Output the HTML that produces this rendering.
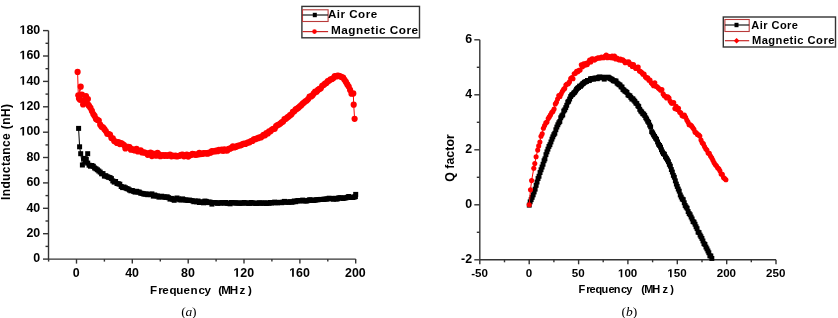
<!DOCTYPE html>
<html><head><meta charset="utf-8"><style>
html,body{margin:0;padding:0;background:#fff;}
svg{display:block;filter:blur(0.3px);}
</style></head><body>
<svg width="838" height="318" viewBox="0 0 838 318">
<rect width="838" height="318" fill="#fff"/>
<g stroke="#333" stroke-width="1.4" fill="none"><line x1="48.5" y1="30.6" x2="48.5" y2="259.1"/><line x1="48.5" y1="259.1" x2="355.7" y2="259.1"/><line x1="43.0" y1="259.1" x2="48.5" y2="259.1"/><line x1="45.5" y1="246.4" x2="48.5" y2="246.4"/><line x1="43.0" y1="233.7" x2="48.5" y2="233.7"/><line x1="45.5" y1="221.0" x2="48.5" y2="221.0"/><line x1="43.0" y1="208.3" x2="48.5" y2="208.3"/><line x1="45.5" y1="195.6" x2="48.5" y2="195.6"/><line x1="43.0" y1="182.9" x2="48.5" y2="182.9"/><line x1="45.5" y1="170.2" x2="48.5" y2="170.2"/><line x1="43.0" y1="157.5" x2="48.5" y2="157.5"/><line x1="45.5" y1="144.9" x2="48.5" y2="144.9"/><line x1="43.0" y1="132.2" x2="48.5" y2="132.2"/><line x1="45.5" y1="119.5" x2="48.5" y2="119.5"/><line x1="43.0" y1="106.8" x2="48.5" y2="106.8"/><line x1="45.5" y1="94.1" x2="48.5" y2="94.1"/><line x1="43.0" y1="81.4" x2="48.5" y2="81.4"/><line x1="45.5" y1="68.7" x2="48.5" y2="68.7"/><line x1="43.0" y1="56.0" x2="48.5" y2="56.0"/><line x1="45.5" y1="43.3" x2="48.5" y2="43.3"/><line x1="43.0" y1="30.6" x2="48.5" y2="30.6"/><line x1="48.6" y1="259.1" x2="48.6" y2="261.6"/><line x1="76.5" y1="259.1" x2="76.5" y2="263.6"/><line x1="104.4" y1="259.1" x2="104.4" y2="261.6"/><line x1="132.3" y1="259.1" x2="132.3" y2="263.6"/><line x1="160.3" y1="259.1" x2="160.3" y2="261.6"/><line x1="188.2" y1="259.1" x2="188.2" y2="263.6"/><line x1="216.1" y1="259.1" x2="216.1" y2="261.6"/><line x1="244.0" y1="259.1" x2="244.0" y2="263.6"/><line x1="271.9" y1="259.1" x2="271.9" y2="261.6"/><line x1="299.9" y1="259.1" x2="299.9" y2="263.6"/><line x1="327.8" y1="259.1" x2="327.8" y2="261.6"/><line x1="355.7" y1="259.1" x2="355.7" y2="263.6"/></g><g stroke="#333" stroke-width="1.4" fill="none"><line x1="479.8" y1="39.8" x2="479.8" y2="259.8"/><line x1="479.8" y1="259.8" x2="776" y2="259.8"/><line x1="474.3" y1="259.8" x2="479.8" y2="259.8"/><line x1="476.8" y1="232.3" x2="479.8" y2="232.3"/><line x1="474.3" y1="204.8" x2="479.8" y2="204.8"/><line x1="476.8" y1="177.3" x2="479.8" y2="177.3"/><line x1="474.3" y1="149.8" x2="479.8" y2="149.8"/><line x1="476.8" y1="122.3" x2="479.8" y2="122.3"/><line x1="474.3" y1="94.8" x2="479.8" y2="94.8"/><line x1="476.8" y1="67.3" x2="479.8" y2="67.3"/><line x1="474.3" y1="39.8" x2="479.8" y2="39.8"/><line x1="479.8" y1="259.8" x2="479.8" y2="264.3"/><line x1="504.5" y1="259.8" x2="504.5" y2="262.3"/><line x1="529.2" y1="259.8" x2="529.2" y2="264.3"/><line x1="553.9" y1="259.8" x2="553.9" y2="262.3"/><line x1="578.6" y1="259.8" x2="578.6" y2="264.3"/><line x1="603.2" y1="259.8" x2="603.2" y2="262.3"/><line x1="627.9" y1="259.8" x2="627.9" y2="264.3"/><line x1="652.6" y1="259.8" x2="652.6" y2="262.3"/><line x1="677.3" y1="259.8" x2="677.3" y2="264.3"/><line x1="702.0" y1="259.8" x2="702.0" y2="262.3"/><line x1="726.7" y1="259.8" x2="726.7" y2="264.3"/><line x1="751.3" y1="259.8" x2="751.3" y2="262.3"/><line x1="776.0" y1="259.8" x2="776.0" y2="264.3"/></g><polyline points="78.6,128.4 79.6,146.8 80.7,153.7 82.4,165.0 83.8,158.4 85.2,162.0 87.7,153.7 86.3,159.5 87.7,163.1 89.1,165.2 90.5,166.2 91.9,165.5 93.3,166.3 94.6,168.0 96.0,168.8 97.4,169.8 98.8,171.0 100.2,172.1 101.6,173.8 103.0,173.6 104.4,176.1 105.8,175.7 107.2,176.7 108.6,177.3 110.0,177.6 111.4,178.6 112.8,180.9 114.2,182.1 115.6,181.5 117.0,183.5 118.4,183.8 119.8,184.2 121.2,186.5 122.6,187.6 124.0,187.0 125.4,187.8 126.8,188.6 128.2,189.0 129.5,190.0 130.9,190.8 132.3,190.5 133.7,191.4 135.1,192.1 136.5,191.3 137.9,192.0 139.3,192.1 140.7,193.2 142.1,193.4 143.5,193.9 144.9,194.2 146.3,193.9 147.7,194.7 149.1,194.3 150.5,194.6 151.9,193.9 153.3,196.1 154.7,195.0 156.1,195.8 157.5,196.0 158.9,197.1 160.3,196.7 161.7,196.2 163.1,196.9 164.4,197.0 165.8,197.4 167.2,196.8 168.6,197.7 170.0,199.1 171.4,198.4 172.8,199.3 174.2,200.3 175.6,198.9 177.0,198.0 178.4,198.9 179.8,199.8 181.2,199.9 182.6,198.9 184.0,199.7 185.4,200.0 186.8,200.2 188.2,200.4 189.6,200.1 191.0,200.5 192.4,200.8 193.8,201.7 195.2,201.0 196.6,201.8 198.0,201.0 199.3,202.5 200.7,201.9 202.1,202.0 203.5,202.8 204.9,201.1 206.3,201.4 207.7,202.6 209.1,202.0 210.5,202.3 211.9,204.1 213.3,202.5 214.7,202.7 216.1,202.7 217.5,203.3 218.9,203.0 220.3,203.0 221.7,202.6 223.1,202.9 224.5,203.1 225.9,202.5 227.3,203.3 228.7,203.3 230.1,203.8 231.5,202.5 232.9,202.8 234.2,202.8 235.6,202.9 237.0,203.1 238.4,203.0 239.8,203.2 241.2,203.2 242.6,203.1 244.0,202.5 245.4,202.9 246.8,203.1 248.2,203.3 249.6,203.4 251.0,202.5 252.4,202.9 253.8,203.1 255.2,203.3 256.6,203.5 258.0,203.1 259.4,202.8 260.8,203.2 262.2,203.1 263.6,203.1 265.0,202.9 266.4,203.5 267.8,203.0 269.1,203.2 270.5,202.5 271.9,203.1 273.3,202.5 274.7,202.1 276.1,202.7 277.5,202.8 278.9,202.4 280.3,202.4 281.7,202.7 283.1,202.1 284.5,201.4 285.9,202.2 287.3,202.1 288.7,202.3 290.1,201.7 291.5,202.2 292.9,202.0 294.3,201.0 295.7,201.7 297.1,200.8 298.5,200.6 299.9,200.9 301.3,200.7 302.7,200.1 304.0,200.8 305.4,200.9 306.8,201.0 308.2,200.4 309.6,199.8 311.0,199.9 312.4,200.5 313.8,200.4 315.2,200.1 316.6,199.7 318.0,199.8 319.4,199.5 320.8,199.4 322.2,199.5 323.6,199.3 325.0,199.1 326.4,199.1 327.8,198.8 329.2,198.2 330.6,198.6 332.0,198.7 333.4,199.2 334.8,198.3 336.2,199.1 337.6,198.8 338.9,197.8 340.3,197.8 341.7,198.0 343.1,198.5 344.5,197.9 345.9,197.9 347.3,197.3 348.7,196.5 350.1,197.2 351.5,197.5 352.9,197.5 354.3,197.0 355.4,196.6 355.7,194.4" fill="none" stroke="#000" stroke-width="1"/><g fill="#000"><rect x="76.1" y="125.9" width="5" height="5"/><rect x="77.1" y="144.3" width="5" height="5"/><rect x="78.2" y="151.2" width="5" height="5"/><rect x="79.9" y="162.5" width="5" height="5"/><rect x="81.3" y="155.9" width="5" height="5"/><rect x="82.7" y="159.5" width="5" height="5"/><rect x="85.2" y="151.2" width="5" height="5"/><rect x="83.8" y="157.0" width="5" height="5"/><rect x="85.2" y="160.6" width="5" height="5"/><rect x="86.6" y="162.7" width="5" height="5"/><rect x="88.0" y="163.7" width="5" height="5"/><rect x="89.4" y="163.0" width="5" height="5"/><rect x="90.8" y="163.8" width="5" height="5"/><rect x="92.1" y="165.5" width="5" height="5"/><rect x="93.5" y="166.3" width="5" height="5"/><rect x="94.9" y="167.3" width="5" height="5"/><rect x="96.3" y="168.5" width="5" height="5"/><rect x="97.7" y="169.6" width="5" height="5"/><rect x="99.1" y="171.3" width="5" height="5"/><rect x="100.5" y="171.1" width="5" height="5"/><rect x="101.9" y="173.6" width="5" height="5"/><rect x="103.3" y="173.2" width="5" height="5"/><rect x="104.7" y="174.2" width="5" height="5"/><rect x="106.1" y="174.8" width="5" height="5"/><rect x="107.5" y="175.1" width="5" height="5"/><rect x="108.9" y="176.1" width="5" height="5"/><rect x="110.3" y="178.4" width="5" height="5"/><rect x="111.7" y="179.6" width="5" height="5"/><rect x="113.1" y="179.0" width="5" height="5"/><rect x="114.5" y="181.0" width="5" height="5"/><rect x="115.9" y="181.3" width="5" height="5"/><rect x="117.3" y="181.7" width="5" height="5"/><rect x="118.7" y="184.0" width="5" height="5"/><rect x="120.1" y="185.1" width="5" height="5"/><rect x="121.5" y="184.5" width="5" height="5"/><rect x="122.9" y="185.3" width="5" height="5"/><rect x="124.3" y="186.1" width="5" height="5"/><rect x="125.7" y="186.5" width="5" height="5"/><rect x="127.0" y="187.5" width="5" height="5"/><rect x="128.4" y="188.3" width="5" height="5"/><rect x="129.8" y="188.0" width="5" height="5"/><rect x="131.2" y="188.9" width="5" height="5"/><rect x="132.6" y="189.6" width="5" height="5"/><rect x="134.0" y="188.8" width="5" height="5"/><rect x="135.4" y="189.5" width="5" height="5"/><rect x="136.8" y="189.6" width="5" height="5"/><rect x="138.2" y="190.7" width="5" height="5"/><rect x="139.6" y="190.9" width="5" height="5"/><rect x="141.0" y="191.4" width="5" height="5"/><rect x="142.4" y="191.7" width="5" height="5"/><rect x="143.8" y="191.4" width="5" height="5"/><rect x="145.2" y="192.2" width="5" height="5"/><rect x="146.6" y="191.8" width="5" height="5"/><rect x="148.0" y="192.1" width="5" height="5"/><rect x="149.4" y="191.4" width="5" height="5"/><rect x="150.8" y="193.6" width="5" height="5"/><rect x="152.2" y="192.5" width="5" height="5"/><rect x="153.6" y="193.3" width="5" height="5"/><rect x="155.0" y="193.5" width="5" height="5"/><rect x="156.4" y="194.6" width="5" height="5"/><rect x="157.8" y="194.2" width="5" height="5"/><rect x="159.2" y="193.7" width="5" height="5"/><rect x="160.6" y="194.4" width="5" height="5"/><rect x="161.9" y="194.5" width="5" height="5"/><rect x="163.3" y="194.9" width="5" height="5"/><rect x="164.7" y="194.3" width="5" height="5"/><rect x="166.1" y="195.2" width="5" height="5"/><rect x="167.5" y="196.6" width="5" height="5"/><rect x="168.9" y="195.9" width="5" height="5"/><rect x="170.3" y="196.8" width="5" height="5"/><rect x="171.7" y="197.8" width="5" height="5"/><rect x="173.1" y="196.4" width="5" height="5"/><rect x="174.5" y="195.5" width="5" height="5"/><rect x="175.9" y="196.4" width="5" height="5"/><rect x="177.3" y="197.3" width="5" height="5"/><rect x="178.7" y="197.4" width="5" height="5"/><rect x="180.1" y="196.4" width="5" height="5"/><rect x="181.5" y="197.2" width="5" height="5"/><rect x="182.9" y="197.5" width="5" height="5"/><rect x="184.3" y="197.7" width="5" height="5"/><rect x="185.7" y="197.9" width="5" height="5"/><rect x="187.1" y="197.6" width="5" height="5"/><rect x="188.5" y="198.0" width="5" height="5"/><rect x="189.9" y="198.3" width="5" height="5"/><rect x="191.3" y="199.2" width="5" height="5"/><rect x="192.7" y="198.5" width="5" height="5"/><rect x="194.1" y="199.3" width="5" height="5"/><rect x="195.5" y="198.5" width="5" height="5"/><rect x="196.8" y="200.0" width="5" height="5"/><rect x="198.2" y="199.4" width="5" height="5"/><rect x="199.6" y="199.5" width="5" height="5"/><rect x="201.0" y="200.3" width="5" height="5"/><rect x="202.4" y="198.6" width="5" height="5"/><rect x="203.8" y="198.9" width="5" height="5"/><rect x="205.2" y="200.1" width="5" height="5"/><rect x="206.6" y="199.5" width="5" height="5"/><rect x="208.0" y="199.8" width="5" height="5"/><rect x="209.4" y="201.6" width="5" height="5"/><rect x="210.8" y="200.0" width="5" height="5"/><rect x="212.2" y="200.2" width="5" height="5"/><rect x="213.6" y="200.2" width="5" height="5"/><rect x="215.0" y="200.8" width="5" height="5"/><rect x="216.4" y="200.5" width="5" height="5"/><rect x="217.8" y="200.5" width="5" height="5"/><rect x="219.2" y="200.1" width="5" height="5"/><rect x="220.6" y="200.4" width="5" height="5"/><rect x="222.0" y="200.6" width="5" height="5"/><rect x="223.4" y="200.0" width="5" height="5"/><rect x="224.8" y="200.8" width="5" height="5"/><rect x="226.2" y="200.8" width="5" height="5"/><rect x="227.6" y="201.3" width="5" height="5"/><rect x="229.0" y="200.0" width="5" height="5"/><rect x="230.4" y="200.3" width="5" height="5"/><rect x="231.7" y="200.3" width="5" height="5"/><rect x="233.1" y="200.4" width="5" height="5"/><rect x="234.5" y="200.6" width="5" height="5"/><rect x="235.9" y="200.5" width="5" height="5"/><rect x="237.3" y="200.7" width="5" height="5"/><rect x="238.7" y="200.7" width="5" height="5"/><rect x="240.1" y="200.6" width="5" height="5"/><rect x="241.5" y="200.0" width="5" height="5"/><rect x="242.9" y="200.4" width="5" height="5"/><rect x="244.3" y="200.6" width="5" height="5"/><rect x="245.7" y="200.8" width="5" height="5"/><rect x="247.1" y="200.9" width="5" height="5"/><rect x="248.5" y="200.0" width="5" height="5"/><rect x="249.9" y="200.4" width="5" height="5"/><rect x="251.3" y="200.6" width="5" height="5"/><rect x="252.7" y="200.8" width="5" height="5"/><rect x="254.1" y="201.0" width="5" height="5"/><rect x="255.5" y="200.6" width="5" height="5"/><rect x="256.9" y="200.3" width="5" height="5"/><rect x="258.3" y="200.7" width="5" height="5"/><rect x="259.7" y="200.6" width="5" height="5"/><rect x="261.1" y="200.6" width="5" height="5"/><rect x="262.5" y="200.4" width="5" height="5"/><rect x="263.9" y="201.0" width="5" height="5"/><rect x="265.3" y="200.5" width="5" height="5"/><rect x="266.6" y="200.7" width="5" height="5"/><rect x="268.0" y="200.0" width="5" height="5"/><rect x="269.4" y="200.6" width="5" height="5"/><rect x="270.8" y="200.0" width="5" height="5"/><rect x="272.2" y="199.6" width="5" height="5"/><rect x="273.6" y="200.2" width="5" height="5"/><rect x="275.0" y="200.3" width="5" height="5"/><rect x="276.4" y="199.9" width="5" height="5"/><rect x="277.8" y="199.9" width="5" height="5"/><rect x="279.2" y="200.2" width="5" height="5"/><rect x="280.6" y="199.6" width="5" height="5"/><rect x="282.0" y="198.9" width="5" height="5"/><rect x="283.4" y="199.7" width="5" height="5"/><rect x="284.8" y="199.6" width="5" height="5"/><rect x="286.2" y="199.8" width="5" height="5"/><rect x="287.6" y="199.2" width="5" height="5"/><rect x="289.0" y="199.7" width="5" height="5"/><rect x="290.4" y="199.5" width="5" height="5"/><rect x="291.8" y="198.5" width="5" height="5"/><rect x="293.2" y="199.2" width="5" height="5"/><rect x="294.6" y="198.3" width="5" height="5"/><rect x="296.0" y="198.1" width="5" height="5"/><rect x="297.4" y="198.4" width="5" height="5"/><rect x="298.8" y="198.2" width="5" height="5"/><rect x="300.2" y="197.6" width="5" height="5"/><rect x="301.5" y="198.3" width="5" height="5"/><rect x="302.9" y="198.4" width="5" height="5"/><rect x="304.3" y="198.5" width="5" height="5"/><rect x="305.7" y="197.9" width="5" height="5"/><rect x="307.1" y="197.3" width="5" height="5"/><rect x="308.5" y="197.4" width="5" height="5"/><rect x="309.9" y="198.0" width="5" height="5"/><rect x="311.3" y="197.9" width="5" height="5"/><rect x="312.7" y="197.6" width="5" height="5"/><rect x="314.1" y="197.2" width="5" height="5"/><rect x="315.5" y="197.3" width="5" height="5"/><rect x="316.9" y="197.0" width="5" height="5"/><rect x="318.3" y="196.9" width="5" height="5"/><rect x="319.7" y="197.0" width="5" height="5"/><rect x="321.1" y="196.8" width="5" height="5"/><rect x="322.5" y="196.6" width="5" height="5"/><rect x="323.9" y="196.6" width="5" height="5"/><rect x="325.3" y="196.3" width="5" height="5"/><rect x="326.7" y="195.7" width="5" height="5"/><rect x="328.1" y="196.1" width="5" height="5"/><rect x="329.5" y="196.2" width="5" height="5"/><rect x="330.9" y="196.7" width="5" height="5"/><rect x="332.3" y="195.8" width="5" height="5"/><rect x="333.7" y="196.6" width="5" height="5"/><rect x="335.1" y="196.3" width="5" height="5"/><rect x="336.4" y="195.3" width="5" height="5"/><rect x="337.8" y="195.3" width="5" height="5"/><rect x="339.2" y="195.5" width="5" height="5"/><rect x="340.6" y="196.0" width="5" height="5"/><rect x="342.0" y="195.4" width="5" height="5"/><rect x="343.4" y="195.4" width="5" height="5"/><rect x="344.8" y="194.8" width="5" height="5"/><rect x="346.2" y="194.0" width="5" height="5"/><rect x="347.6" y="194.7" width="5" height="5"/><rect x="349.0" y="195.0" width="5" height="5"/><rect x="350.4" y="195.0" width="5" height="5"/><rect x="351.8" y="194.5" width="5" height="5"/><rect x="352.9" y="194.1" width="5" height="5"/><rect x="353.2" y="191.9" width="5" height="5"/></g><polyline points="77.6,71.9 78.3,95.3 80.7,86.7 79.0,98.5 81.9,94.5 80.1,99.8 84.0,100.0 86.0,96.0 87.9,99.0 83.1,104.5 86.6,103.0 88.4,104.9 89.1,106.1 90.5,107.9 91.9,110.9 93.3,114.1 94.6,115.9 96.0,118.9 97.4,119.9 98.8,120.6 100.2,124.7 101.6,126.8 103.0,127.3 104.4,129.2 105.8,131.1 107.2,133.7 108.6,134.1 110.0,134.6 111.4,138.1 112.8,138.3 114.2,141.1 115.6,141.5 117.0,143.0 118.4,142.1 119.8,144.1 121.2,143.1 122.6,144.0 124.0,145.1 125.4,148.4 126.8,146.8 128.2,146.8 129.5,147.2 130.9,149.7 132.3,149.0 133.7,150.1 135.1,150.4 136.5,148.8 137.9,151.4 139.3,151.0 140.7,150.4 142.1,152.5 143.5,152.3 144.9,152.5 146.3,153.0 147.7,154.8 149.1,153.7 150.5,152.5 151.9,156.1 153.3,153.6 154.7,154.6 156.1,155.7 157.5,152.8 158.9,154.3 160.3,156.2 161.7,155.4 163.1,155.1 164.4,155.8 165.8,155.2 167.2,155.8 168.6,155.3 170.0,154.7 171.4,156.3 172.8,155.6 174.2,156.1 175.6,155.6 177.0,156.5 178.4,156.0 179.8,155.7 181.2,154.8 182.6,154.5 184.0,156.3 185.4,155.9 186.8,154.7 188.2,156.6 189.6,155.4 191.0,155.0 192.4,153.8 193.8,154.1 195.2,154.8 196.6,154.6 198.0,154.4 199.3,152.8 200.7,154.1 202.1,153.9 203.5,153.2 204.9,153.3 206.3,153.2 207.7,153.7 209.1,152.6 210.5,152.7 211.9,151.2 213.3,151.3 214.7,151.5 216.1,150.7 217.5,151.2 218.9,149.9 220.3,150.4 221.7,149.7 223.1,150.8 224.5,149.3 225.9,150.5 227.3,150.4 228.7,148.8 230.1,148.7 231.5,147.8 232.9,146.3 234.2,147.5 235.6,147.0 237.0,146.2 238.4,145.6 239.8,145.5 241.2,145.1 242.6,144.2 244.0,143.7 245.4,144.0 246.8,143.0 248.2,142.3 249.6,142.3 251.0,141.0 252.4,141.0 253.8,139.4 255.2,139.2 256.6,138.6 258.0,138.2 259.4,137.3 260.8,137.5 262.2,136.3 263.6,134.8 265.0,135.3 266.4,133.0 267.8,133.4 269.1,131.3 270.5,131.3 271.9,129.5 273.3,128.9 274.7,128.7 276.1,126.2 277.5,125.0 278.9,124.6 280.3,123.6 281.7,122.3 283.1,121.5 284.5,119.2 285.9,118.8 287.3,117.4 288.7,116.5 290.1,115.2 291.5,114.3 292.9,111.8 294.3,111.3 295.7,109.4 297.1,108.7 298.5,107.7 299.9,106.3 301.3,105.2 302.7,103.6 304.0,102.6 305.4,101.3 306.8,100.5 308.2,99.0 309.6,96.5 311.0,96.4 312.4,95.4 313.8,93.4 315.2,91.6 316.6,91.8 318.0,89.9 319.4,88.9 320.8,88.3 322.2,85.8 323.6,85.0 325.0,83.7 326.4,83.0 327.8,81.2 329.2,80.6 330.6,79.4 332.0,79.0 333.4,78.1 334.8,76.1 336.2,76.5 337.6,75.7 338.9,75.9 340.3,76.4 341.7,77.1 343.1,77.6 344.5,79.8 345.9,81.9 347.3,84.4 348.7,86.6 350.1,89.9 351.5,93.7 353.3,93.4 353.7,104.7 354.6,118.8" fill="none" stroke="#f00" stroke-width="1"/><g fill="#f00"><circle cx="77.6" cy="71.9" r="3.1"/><circle cx="78.3" cy="95.3" r="3.1"/><circle cx="80.7" cy="86.7" r="3.1"/><circle cx="79.0" cy="98.5" r="3.1"/><circle cx="81.9" cy="94.5" r="3.1"/><circle cx="80.1" cy="99.8" r="3.1"/><circle cx="84.0" cy="100.0" r="3.1"/><circle cx="86.0" cy="96.0" r="3.1"/><circle cx="87.9" cy="99.0" r="3.1"/><circle cx="83.1" cy="104.5" r="3.1"/><circle cx="86.6" cy="103.0" r="3.1"/><circle cx="88.4" cy="104.9" r="3.1"/><circle cx="89.1" cy="106.1" r="3.1"/><circle cx="90.5" cy="107.9" r="3.1"/><circle cx="91.9" cy="110.9" r="3.1"/><circle cx="93.3" cy="114.1" r="3.1"/><circle cx="94.6" cy="115.9" r="3.1"/><circle cx="96.0" cy="118.9" r="3.1"/><circle cx="97.4" cy="119.9" r="3.1"/><circle cx="98.8" cy="120.6" r="3.1"/><circle cx="100.2" cy="124.7" r="3.1"/><circle cx="101.6" cy="126.8" r="3.1"/><circle cx="103.0" cy="127.3" r="3.1"/><circle cx="104.4" cy="129.2" r="3.1"/><circle cx="105.8" cy="131.1" r="3.1"/><circle cx="107.2" cy="133.7" r="3.1"/><circle cx="108.6" cy="134.1" r="3.1"/><circle cx="110.0" cy="134.6" r="3.1"/><circle cx="111.4" cy="138.1" r="3.1"/><circle cx="112.8" cy="138.3" r="3.1"/><circle cx="114.2" cy="141.1" r="3.1"/><circle cx="115.6" cy="141.5" r="3.1"/><circle cx="117.0" cy="143.0" r="3.1"/><circle cx="118.4" cy="142.1" r="3.1"/><circle cx="119.8" cy="144.1" r="3.1"/><circle cx="121.2" cy="143.1" r="3.1"/><circle cx="122.6" cy="144.0" r="3.1"/><circle cx="124.0" cy="145.1" r="3.1"/><circle cx="125.4" cy="148.4" r="3.1"/><circle cx="126.8" cy="146.8" r="3.1"/><circle cx="128.2" cy="146.8" r="3.1"/><circle cx="129.5" cy="147.2" r="3.1"/><circle cx="130.9" cy="149.7" r="3.1"/><circle cx="132.3" cy="149.0" r="3.1"/><circle cx="133.7" cy="150.1" r="3.1"/><circle cx="135.1" cy="150.4" r="3.1"/><circle cx="136.5" cy="148.8" r="3.1"/><circle cx="137.9" cy="151.4" r="3.1"/><circle cx="139.3" cy="151.0" r="3.1"/><circle cx="140.7" cy="150.4" r="3.1"/><circle cx="142.1" cy="152.5" r="3.1"/><circle cx="143.5" cy="152.3" r="3.1"/><circle cx="144.9" cy="152.5" r="3.1"/><circle cx="146.3" cy="153.0" r="3.1"/><circle cx="147.7" cy="154.8" r="3.1"/><circle cx="149.1" cy="153.7" r="3.1"/><circle cx="150.5" cy="152.5" r="3.1"/><circle cx="151.9" cy="156.1" r="3.1"/><circle cx="153.3" cy="153.6" r="3.1"/><circle cx="154.7" cy="154.6" r="3.1"/><circle cx="156.1" cy="155.7" r="3.1"/><circle cx="157.5" cy="152.8" r="3.1"/><circle cx="158.9" cy="154.3" r="3.1"/><circle cx="160.3" cy="156.2" r="3.1"/><circle cx="161.7" cy="155.4" r="3.1"/><circle cx="163.1" cy="155.1" r="3.1"/><circle cx="164.4" cy="155.8" r="3.1"/><circle cx="165.8" cy="155.2" r="3.1"/><circle cx="167.2" cy="155.8" r="3.1"/><circle cx="168.6" cy="155.3" r="3.1"/><circle cx="170.0" cy="154.7" r="3.1"/><circle cx="171.4" cy="156.3" r="3.1"/><circle cx="172.8" cy="155.6" r="3.1"/><circle cx="174.2" cy="156.1" r="3.1"/><circle cx="175.6" cy="155.6" r="3.1"/><circle cx="177.0" cy="156.5" r="3.1"/><circle cx="178.4" cy="156.0" r="3.1"/><circle cx="179.8" cy="155.7" r="3.1"/><circle cx="181.2" cy="154.8" r="3.1"/><circle cx="182.6" cy="154.5" r="3.1"/><circle cx="184.0" cy="156.3" r="3.1"/><circle cx="185.4" cy="155.9" r="3.1"/><circle cx="186.8" cy="154.7" r="3.1"/><circle cx="188.2" cy="156.6" r="3.1"/><circle cx="189.6" cy="155.4" r="3.1"/><circle cx="191.0" cy="155.0" r="3.1"/><circle cx="192.4" cy="153.8" r="3.1"/><circle cx="193.8" cy="154.1" r="3.1"/><circle cx="195.2" cy="154.8" r="3.1"/><circle cx="196.6" cy="154.6" r="3.1"/><circle cx="198.0" cy="154.4" r="3.1"/><circle cx="199.3" cy="152.8" r="3.1"/><circle cx="200.7" cy="154.1" r="3.1"/><circle cx="202.1" cy="153.9" r="3.1"/><circle cx="203.5" cy="153.2" r="3.1"/><circle cx="204.9" cy="153.3" r="3.1"/><circle cx="206.3" cy="153.2" r="3.1"/><circle cx="207.7" cy="153.7" r="3.1"/><circle cx="209.1" cy="152.6" r="3.1"/><circle cx="210.5" cy="152.7" r="3.1"/><circle cx="211.9" cy="151.2" r="3.1"/><circle cx="213.3" cy="151.3" r="3.1"/><circle cx="214.7" cy="151.5" r="3.1"/><circle cx="216.1" cy="150.7" r="3.1"/><circle cx="217.5" cy="151.2" r="3.1"/><circle cx="218.9" cy="149.9" r="3.1"/><circle cx="220.3" cy="150.4" r="3.1"/><circle cx="221.7" cy="149.7" r="3.1"/><circle cx="223.1" cy="150.8" r="3.1"/><circle cx="224.5" cy="149.3" r="3.1"/><circle cx="225.9" cy="150.5" r="3.1"/><circle cx="227.3" cy="150.4" r="3.1"/><circle cx="228.7" cy="148.8" r="3.1"/><circle cx="230.1" cy="148.7" r="3.1"/><circle cx="231.5" cy="147.8" r="3.1"/><circle cx="232.9" cy="146.3" r="3.1"/><circle cx="234.2" cy="147.5" r="3.1"/><circle cx="235.6" cy="147.0" r="3.1"/><circle cx="237.0" cy="146.2" r="3.1"/><circle cx="238.4" cy="145.6" r="3.1"/><circle cx="239.8" cy="145.5" r="3.1"/><circle cx="241.2" cy="145.1" r="3.1"/><circle cx="242.6" cy="144.2" r="3.1"/><circle cx="244.0" cy="143.7" r="3.1"/><circle cx="245.4" cy="144.0" r="3.1"/><circle cx="246.8" cy="143.0" r="3.1"/><circle cx="248.2" cy="142.3" r="3.1"/><circle cx="249.6" cy="142.3" r="3.1"/><circle cx="251.0" cy="141.0" r="3.1"/><circle cx="252.4" cy="141.0" r="3.1"/><circle cx="253.8" cy="139.4" r="3.1"/><circle cx="255.2" cy="139.2" r="3.1"/><circle cx="256.6" cy="138.6" r="3.1"/><circle cx="258.0" cy="138.2" r="3.1"/><circle cx="259.4" cy="137.3" r="3.1"/><circle cx="260.8" cy="137.5" r="3.1"/><circle cx="262.2" cy="136.3" r="3.1"/><circle cx="263.6" cy="134.8" r="3.1"/><circle cx="265.0" cy="135.3" r="3.1"/><circle cx="266.4" cy="133.0" r="3.1"/><circle cx="267.8" cy="133.4" r="3.1"/><circle cx="269.1" cy="131.3" r="3.1"/><circle cx="270.5" cy="131.3" r="3.1"/><circle cx="271.9" cy="129.5" r="3.1"/><circle cx="273.3" cy="128.9" r="3.1"/><circle cx="274.7" cy="128.7" r="3.1"/><circle cx="276.1" cy="126.2" r="3.1"/><circle cx="277.5" cy="125.0" r="3.1"/><circle cx="278.9" cy="124.6" r="3.1"/><circle cx="280.3" cy="123.6" r="3.1"/><circle cx="281.7" cy="122.3" r="3.1"/><circle cx="283.1" cy="121.5" r="3.1"/><circle cx="284.5" cy="119.2" r="3.1"/><circle cx="285.9" cy="118.8" r="3.1"/><circle cx="287.3" cy="117.4" r="3.1"/><circle cx="288.7" cy="116.5" r="3.1"/><circle cx="290.1" cy="115.2" r="3.1"/><circle cx="291.5" cy="114.3" r="3.1"/><circle cx="292.9" cy="111.8" r="3.1"/><circle cx="294.3" cy="111.3" r="3.1"/><circle cx="295.7" cy="109.4" r="3.1"/><circle cx="297.1" cy="108.7" r="3.1"/><circle cx="298.5" cy="107.7" r="3.1"/><circle cx="299.9" cy="106.3" r="3.1"/><circle cx="301.3" cy="105.2" r="3.1"/><circle cx="302.7" cy="103.6" r="3.1"/><circle cx="304.0" cy="102.6" r="3.1"/><circle cx="305.4" cy="101.3" r="3.1"/><circle cx="306.8" cy="100.5" r="3.1"/><circle cx="308.2" cy="99.0" r="3.1"/><circle cx="309.6" cy="96.5" r="3.1"/><circle cx="311.0" cy="96.4" r="3.1"/><circle cx="312.4" cy="95.4" r="3.1"/><circle cx="313.8" cy="93.4" r="3.1"/><circle cx="315.2" cy="91.6" r="3.1"/><circle cx="316.6" cy="91.8" r="3.1"/><circle cx="318.0" cy="89.9" r="3.1"/><circle cx="319.4" cy="88.9" r="3.1"/><circle cx="320.8" cy="88.3" r="3.1"/><circle cx="322.2" cy="85.8" r="3.1"/><circle cx="323.6" cy="85.0" r="3.1"/><circle cx="325.0" cy="83.7" r="3.1"/><circle cx="326.4" cy="83.0" r="3.1"/><circle cx="327.8" cy="81.2" r="3.1"/><circle cx="329.2" cy="80.6" r="3.1"/><circle cx="330.6" cy="79.4" r="3.1"/><circle cx="332.0" cy="79.0" r="3.1"/><circle cx="333.4" cy="78.1" r="3.1"/><circle cx="334.8" cy="76.1" r="3.1"/><circle cx="336.2" cy="76.5" r="3.1"/><circle cx="337.6" cy="75.7" r="3.1"/><circle cx="338.9" cy="75.9" r="3.1"/><circle cx="340.3" cy="76.4" r="3.1"/><circle cx="341.7" cy="77.1" r="3.1"/><circle cx="343.1" cy="77.6" r="3.1"/><circle cx="344.5" cy="79.8" r="3.1"/><circle cx="345.9" cy="81.9" r="3.1"/><circle cx="347.3" cy="84.4" r="3.1"/><circle cx="348.7" cy="86.6" r="3.1"/><circle cx="350.1" cy="89.9" r="3.1"/><circle cx="351.5" cy="93.7" r="3.1"/><circle cx="353.3" cy="93.4" r="3.1"/><circle cx="353.7" cy="104.7" r="3.1"/><circle cx="354.6" cy="118.8" r="3.1"/></g><polyline points="529.2,205.1 530.2,201.9 531.2,199.6 532.2,197.4 533.1,194.9 534.1,192.0 535.1,189.1 536.1,185.3 537.1,182.1 538.1,178.6 539.1,176.3 540.1,172.6 541.0,169.8 542.0,167.0 543.0,164.3 544.0,160.7 545.0,158.9 546.0,154.7 547.0,151.9 548.0,149.1 548.9,146.5 549.9,144.6 550.9,142.0 551.9,139.1 552.9,136.9 553.9,134.7 554.9,133.3 555.9,129.8 556.8,127.0 557.8,124.7 558.8,122.8 559.8,121.4 560.8,117.7 561.8,115.9 562.8,114.9 563.8,111.0 564.7,109.8 565.7,107.6 566.7,105.2 567.7,102.2 568.7,101.2 569.7,99.1 570.7,96.6 571.7,95.1 572.6,94.5 573.6,93.1 574.6,92.4 575.6,90.9 576.6,89.3 577.6,88.3 578.6,87.5 579.6,86.1 580.5,86.3 581.5,85.1 582.5,83.9 583.5,83.2 584.5,82.2 585.5,81.8 586.5,81.5 587.5,80.5 588.4,80.6 589.4,80.5 590.4,78.9 591.4,78.9 592.4,78.4 593.4,79.2 594.4,78.2 595.3,78.2 596.3,78.1 597.3,78.8 598.3,77.7 599.3,77.0 600.3,77.3 601.3,77.8 602.3,77.5 603.2,77.2 604.2,79.1 605.2,77.7 606.2,77.4 607.2,77.5 608.2,77.1 609.2,77.7 610.2,78.6 611.1,79.1 612.1,79.3 613.1,80.6 614.1,80.9 615.1,81.0 616.1,81.1 617.1,83.0 618.1,83.9 619.0,84.7 620.0,85.0 621.0,86.8 622.0,87.0 623.0,89.5 624.0,90.1 625.0,91.1 626.0,91.6 626.9,92.5 627.9,94.9 628.9,95.6 629.9,95.9 630.9,97.5 631.9,99.0 632.9,98.7 633.9,100.1 634.8,101.3 635.8,103.1 636.8,103.6 637.8,105.7 638.8,106.6 639.8,109.3 640.8,111.0 641.8,111.9 642.7,113.7 643.7,114.1 644.7,115.6 645.7,117.8 646.7,119.0 647.7,121.1 648.7,122.3 649.7,125.1 650.6,126.8 651.6,131.6 652.6,132.9 653.6,134.9 654.6,136.4 655.6,138.1 656.6,139.2 657.5,142.0 658.5,144.2 659.5,145.5 660.5,147.1 661.5,149.7 662.5,152.0 663.5,153.7 664.5,154.3 665.4,156.8 666.4,158.3 667.4,160.0 668.4,161.7 669.4,164.4 670.4,166.2 671.4,169.5 672.4,172.0 673.3,175.4 674.3,177.2 675.3,180.8 676.3,184.0 677.3,186.5 678.3,189.1 679.3,191.1 680.3,194.9 681.2,197.1 682.2,199.1 683.2,199.7 684.2,202.7 685.2,205.4 686.2,207.0 687.2,208.3 688.2,211.5 689.1,213.6 690.1,214.7 691.1,217.1 692.1,219.0 693.1,221.6 694.1,222.2 695.1,224.2 696.1,226.8 697.0,228.7 698.0,232.1 699.0,232.6 700.0,235.0 701.0,236.6 702.0,238.4 703.0,240.9 704.0,243.6 704.9,244.5 705.9,247.1 706.9,248.8 707.9,250.9 708.9,252.8 709.9,255.9 710.9,255.9 711.9,258.5" fill="none" stroke="#000" stroke-width="1"/><g fill="#000"><rect x="526.8" y="202.7" width="4.9" height="4.9"/><rect x="527.7" y="199.4" width="4.9" height="4.9"/><rect x="528.7" y="197.2" width="4.9" height="4.9"/><rect x="529.7" y="194.9" width="4.9" height="4.9"/><rect x="530.7" y="192.4" width="4.9" height="4.9"/><rect x="531.7" y="189.5" width="4.9" height="4.9"/><rect x="532.7" y="186.7" width="4.9" height="4.9"/><rect x="533.7" y="182.9" width="4.9" height="4.9"/><rect x="534.6" y="179.6" width="4.9" height="4.9"/><rect x="535.6" y="176.1" width="4.9" height="4.9"/><rect x="536.6" y="173.8" width="4.9" height="4.9"/><rect x="537.6" y="170.1" width="4.9" height="4.9"/><rect x="538.6" y="167.3" width="4.9" height="4.9"/><rect x="539.6" y="164.6" width="4.9" height="4.9"/><rect x="540.6" y="161.8" width="4.9" height="4.9"/><rect x="541.6" y="158.3" width="4.9" height="4.9"/><rect x="542.5" y="156.4" width="4.9" height="4.9"/><rect x="543.5" y="152.2" width="4.9" height="4.9"/><rect x="544.5" y="149.4" width="4.9" height="4.9"/><rect x="545.5" y="146.7" width="4.9" height="4.9"/><rect x="546.5" y="144.0" width="4.9" height="4.9"/><rect x="547.5" y="142.2" width="4.9" height="4.9"/><rect x="548.5" y="139.5" width="4.9" height="4.9"/><rect x="549.5" y="136.7" width="4.9" height="4.9"/><rect x="550.4" y="134.4" width="4.9" height="4.9"/><rect x="551.4" y="132.2" width="4.9" height="4.9"/><rect x="552.4" y="130.8" width="4.9" height="4.9"/><rect x="553.4" y="127.3" width="4.9" height="4.9"/><rect x="554.4" y="124.6" width="4.9" height="4.9"/><rect x="555.4" y="122.3" width="4.9" height="4.9"/><rect x="556.4" y="120.3" width="4.9" height="4.9"/><rect x="557.4" y="119.0" width="4.9" height="4.9"/><rect x="558.3" y="115.3" width="4.9" height="4.9"/><rect x="559.3" y="113.5" width="4.9" height="4.9"/><rect x="560.3" y="112.5" width="4.9" height="4.9"/><rect x="561.3" y="108.6" width="4.9" height="4.9"/><rect x="562.3" y="107.4" width="4.9" height="4.9"/><rect x="563.3" y="105.2" width="4.9" height="4.9"/><rect x="564.3" y="102.8" width="4.9" height="4.9"/><rect x="565.3" y="99.7" width="4.9" height="4.9"/><rect x="566.2" y="98.8" width="4.9" height="4.9"/><rect x="567.2" y="96.6" width="4.9" height="4.9"/><rect x="568.2" y="94.1" width="4.9" height="4.9"/><rect x="569.2" y="92.6" width="4.9" height="4.9"/><rect x="570.2" y="92.0" width="4.9" height="4.9"/><rect x="571.2" y="90.7" width="4.9" height="4.9"/><rect x="572.2" y="89.9" width="4.9" height="4.9"/><rect x="573.2" y="88.5" width="4.9" height="4.9"/><rect x="574.1" y="86.8" width="4.9" height="4.9"/><rect x="575.1" y="85.8" width="4.9" height="4.9"/><rect x="576.1" y="85.1" width="4.9" height="4.9"/><rect x="577.1" y="83.7" width="4.9" height="4.9"/><rect x="578.1" y="83.8" width="4.9" height="4.9"/><rect x="579.1" y="82.6" width="4.9" height="4.9"/><rect x="580.1" y="81.4" width="4.9" height="4.9"/><rect x="581.1" y="80.8" width="4.9" height="4.9"/><rect x="582.0" y="79.8" width="4.9" height="4.9"/><rect x="583.0" y="79.4" width="4.9" height="4.9"/><rect x="584.0" y="79.1" width="4.9" height="4.9"/><rect x="585.0" y="78.0" width="4.9" height="4.9"/><rect x="586.0" y="78.2" width="4.9" height="4.9"/><rect x="587.0" y="78.0" width="4.9" height="4.9"/><rect x="588.0" y="76.4" width="4.9" height="4.9"/><rect x="588.9" y="76.5" width="4.9" height="4.9"/><rect x="589.9" y="76.0" width="4.9" height="4.9"/><rect x="590.9" y="76.8" width="4.9" height="4.9"/><rect x="591.9" y="75.8" width="4.9" height="4.9"/><rect x="592.9" y="75.7" width="4.9" height="4.9"/><rect x="593.9" y="75.7" width="4.9" height="4.9"/><rect x="594.9" y="76.3" width="4.9" height="4.9"/><rect x="595.9" y="75.2" width="4.9" height="4.9"/><rect x="596.8" y="74.5" width="4.9" height="4.9"/><rect x="597.8" y="74.8" width="4.9" height="4.9"/><rect x="598.8" y="75.4" width="4.9" height="4.9"/><rect x="599.8" y="75.1" width="4.9" height="4.9"/><rect x="600.8" y="74.7" width="4.9" height="4.9"/><rect x="601.8" y="76.7" width="4.9" height="4.9"/><rect x="602.8" y="75.3" width="4.9" height="4.9"/><rect x="603.8" y="75.0" width="4.9" height="4.9"/><rect x="604.7" y="75.0" width="4.9" height="4.9"/><rect x="605.7" y="74.7" width="4.9" height="4.9"/><rect x="606.7" y="75.3" width="4.9" height="4.9"/><rect x="607.7" y="76.1" width="4.9" height="4.9"/><rect x="608.7" y="76.6" width="4.9" height="4.9"/><rect x="609.7" y="76.9" width="4.9" height="4.9"/><rect x="610.7" y="78.2" width="4.9" height="4.9"/><rect x="611.7" y="78.5" width="4.9" height="4.9"/><rect x="612.6" y="78.5" width="4.9" height="4.9"/><rect x="613.6" y="78.6" width="4.9" height="4.9"/><rect x="614.6" y="80.6" width="4.9" height="4.9"/><rect x="615.6" y="81.4" width="4.9" height="4.9"/><rect x="616.6" y="82.2" width="4.9" height="4.9"/><rect x="617.6" y="82.6" width="4.9" height="4.9"/><rect x="618.6" y="84.4" width="4.9" height="4.9"/><rect x="619.6" y="84.6" width="4.9" height="4.9"/><rect x="620.5" y="87.0" width="4.9" height="4.9"/><rect x="621.5" y="87.6" width="4.9" height="4.9"/><rect x="622.5" y="88.7" width="4.9" height="4.9"/><rect x="623.5" y="89.2" width="4.9" height="4.9"/><rect x="624.5" y="90.0" width="4.9" height="4.9"/><rect x="625.5" y="92.4" width="4.9" height="4.9"/><rect x="626.5" y="93.1" width="4.9" height="4.9"/><rect x="627.5" y="93.4" width="4.9" height="4.9"/><rect x="628.4" y="95.0" width="4.9" height="4.9"/><rect x="629.4" y="96.6" width="4.9" height="4.9"/><rect x="630.4" y="96.3" width="4.9" height="4.9"/><rect x="631.4" y="97.7" width="4.9" height="4.9"/><rect x="632.4" y="98.9" width="4.9" height="4.9"/><rect x="633.4" y="100.6" width="4.9" height="4.9"/><rect x="634.4" y="101.1" width="4.9" height="4.9"/><rect x="635.4" y="103.3" width="4.9" height="4.9"/><rect x="636.3" y="104.1" width="4.9" height="4.9"/><rect x="637.3" y="106.9" width="4.9" height="4.9"/><rect x="638.3" y="108.6" width="4.9" height="4.9"/><rect x="639.3" y="109.5" width="4.9" height="4.9"/><rect x="640.3" y="111.2" width="4.9" height="4.9"/><rect x="641.3" y="111.7" width="4.9" height="4.9"/><rect x="642.3" y="113.1" width="4.9" height="4.9"/><rect x="643.3" y="115.3" width="4.9" height="4.9"/><rect x="644.2" y="116.6" width="4.9" height="4.9"/><rect x="645.2" y="118.7" width="4.9" height="4.9"/><rect x="646.2" y="119.9" width="4.9" height="4.9"/><rect x="647.2" y="122.6" width="4.9" height="4.9"/><rect x="648.2" y="124.4" width="4.9" height="4.9"/><rect x="649.2" y="129.2" width="4.9" height="4.9"/><rect x="650.2" y="130.5" width="4.9" height="4.9"/><rect x="651.1" y="132.4" width="4.9" height="4.9"/><rect x="652.1" y="133.9" width="4.9" height="4.9"/><rect x="653.1" y="135.7" width="4.9" height="4.9"/><rect x="654.1" y="136.8" width="4.9" height="4.9"/><rect x="655.1" y="139.5" width="4.9" height="4.9"/><rect x="656.1" y="141.8" width="4.9" height="4.9"/><rect x="657.1" y="143.0" width="4.9" height="4.9"/><rect x="658.1" y="144.7" width="4.9" height="4.9"/><rect x="659.0" y="147.3" width="4.9" height="4.9"/><rect x="660.0" y="149.5" width="4.9" height="4.9"/><rect x="661.0" y="151.2" width="4.9" height="4.9"/><rect x="662.0" y="151.8" width="4.9" height="4.9"/><rect x="663.0" y="154.4" width="4.9" height="4.9"/><rect x="664.0" y="155.8" width="4.9" height="4.9"/><rect x="665.0" y="157.5" width="4.9" height="4.9"/><rect x="666.0" y="159.3" width="4.9" height="4.9"/><rect x="666.9" y="161.9" width="4.9" height="4.9"/><rect x="667.9" y="163.7" width="4.9" height="4.9"/><rect x="668.9" y="167.1" width="4.9" height="4.9"/><rect x="669.9" y="169.6" width="4.9" height="4.9"/><rect x="670.9" y="172.9" width="4.9" height="4.9"/><rect x="671.9" y="174.8" width="4.9" height="4.9"/><rect x="672.9" y="178.4" width="4.9" height="4.9"/><rect x="673.9" y="181.6" width="4.9" height="4.9"/><rect x="674.8" y="184.0" width="4.9" height="4.9"/><rect x="675.8" y="186.6" width="4.9" height="4.9"/><rect x="676.8" y="188.7" width="4.9" height="4.9"/><rect x="677.8" y="192.5" width="4.9" height="4.9"/><rect x="678.8" y="194.6" width="4.9" height="4.9"/><rect x="679.8" y="196.6" width="4.9" height="4.9"/><rect x="680.8" y="197.2" width="4.9" height="4.9"/><rect x="681.8" y="200.3" width="4.9" height="4.9"/><rect x="682.7" y="203.0" width="4.9" height="4.9"/><rect x="683.7" y="204.6" width="4.9" height="4.9"/><rect x="684.7" y="205.8" width="4.9" height="4.9"/><rect x="685.7" y="209.1" width="4.9" height="4.9"/><rect x="686.7" y="211.1" width="4.9" height="4.9"/><rect x="687.7" y="212.3" width="4.9" height="4.9"/><rect x="688.7" y="214.6" width="4.9" height="4.9"/><rect x="689.7" y="216.5" width="4.9" height="4.9"/><rect x="690.6" y="219.1" width="4.9" height="4.9"/><rect x="691.6" y="219.7" width="4.9" height="4.9"/><rect x="692.6" y="221.8" width="4.9" height="4.9"/><rect x="693.6" y="224.3" width="4.9" height="4.9"/><rect x="694.6" y="226.2" width="4.9" height="4.9"/><rect x="695.6" y="229.7" width="4.9" height="4.9"/><rect x="696.6" y="230.1" width="4.9" height="4.9"/><rect x="697.6" y="232.6" width="4.9" height="4.9"/><rect x="698.5" y="234.2" width="4.9" height="4.9"/><rect x="699.5" y="236.0" width="4.9" height="4.9"/><rect x="700.5" y="238.5" width="4.9" height="4.9"/><rect x="701.5" y="241.2" width="4.9" height="4.9"/><rect x="702.5" y="242.0" width="4.9" height="4.9"/><rect x="703.5" y="244.6" width="4.9" height="4.9"/><rect x="704.5" y="246.4" width="4.9" height="4.9"/><rect x="705.5" y="248.5" width="4.9" height="4.9"/><rect x="706.4" y="250.3" width="4.9" height="4.9"/><rect x="707.4" y="253.4" width="4.9" height="4.9"/><rect x="708.4" y="253.5" width="4.9" height="4.9"/><rect x="709.4" y="256.0" width="4.9" height="4.9"/></g><polyline points="529.2,204.8 530.5,189.7 531.6,180.6 533.8,168.2 534.8,163.6 536.1,156.7 537.7,150.1 538.7,145.9 539.9,142.0 541.0,136.2 542.2,133.7 543.4,128.2 544.6,125.6 545.8,122.9 547.0,122.1 548.2,118.5 549.3,116.9 550.5,114.9 551.7,112.6 552.9,111.4 554.1,109.1 555.3,104.0 556.4,102.2 557.6,99.0 558.8,95.6 560.0,96.5 561.2,93.8 562.4,91.3 563.6,89.4 564.7,88.4 565.9,85.0 567.1,84.0 568.3,83.8 569.5,81.9 570.7,78.5 571.9,77.5 573.0,78.7 574.2,73.8 575.4,73.3 576.6,71.2 577.8,71.7 579.0,70.3 580.1,70.0 581.3,64.8 582.5,66.7 583.7,63.7 584.9,65.2 586.1,63.4 587.3,64.6 588.4,62.4 589.6,60.1 590.8,62.0 592.0,58.8 593.2,59.1 594.4,60.1 595.5,59.1 596.7,58.6 597.9,57.8 599.1,58.0 600.3,58.0 601.5,57.1 602.7,57.6 603.8,57.7 605.0,56.2 606.2,55.1 607.4,57.7 608.6,56.2 609.8,57.1 610.9,57.8 612.1,56.1 613.3,58.0 614.5,56.1 615.7,58.9 616.9,58.0 618.1,59.0 619.2,60.0 620.4,59.0 621.6,60.2 622.8,59.8 624.0,61.0 625.2,62.7 626.4,62.1 627.5,62.4 628.7,61.9 629.9,64.5 631.1,64.1 632.3,66.5 633.5,64.5 634.6,67.0 635.8,68.5 637.0,67.4 638.2,67.0 639.4,70.9 640.6,71.6 641.8,72.5 642.9,74.3 644.1,74.0 645.3,76.7 646.5,77.9 647.7,77.7 648.9,80.3 650.0,80.1 651.2,82.7 652.4,84.0 653.6,85.8 654.8,82.8 656.0,86.2 657.2,86.7 658.3,88.1 659.5,89.1 660.7,90.3 661.9,89.5 663.1,93.9 664.3,95.7 665.4,96.3 666.6,97.9 667.8,96.9 669.0,98.1 670.2,101.3 671.4,103.1 672.6,103.2 673.7,102.6 674.9,108.6 676.1,106.2 677.3,109.4 678.5,108.4 679.7,112.2 680.8,112.7 682.0,115.5 683.2,116.3 684.4,115.1 685.6,117.2 686.8,120.1 688.0,122.1 689.1,124.8 690.3,124.7 691.5,125.9 692.7,127.6 693.9,129.3 695.1,132.2 696.3,132.8 697.4,134.5 698.6,134.9 699.8,136.1 701.0,140.1 702.2,142.7 703.4,143.9 704.5,146.5 705.7,148.7 706.9,150.0 708.1,153.1 709.3,153.4 710.5,156.1 711.7,157.7 712.8,160.0 714.0,162.5 715.2,164.6 716.4,165.7 717.6,167.8 718.8,168.8 719.9,170.8 721.1,174.1 722.3,174.3 723.5,177.6 724.7,178.5 725.9,179.8" fill="none" stroke="#f00" stroke-width="1"/><g fill="#f00"><circle cx="529.2" cy="204.8" r="2.55"/><circle cx="530.5" cy="189.7" r="2.55"/><circle cx="531.6" cy="180.6" r="2.55"/><circle cx="533.8" cy="168.2" r="2.55"/><circle cx="534.8" cy="163.6" r="2.55"/><circle cx="536.1" cy="156.7" r="2.55"/><circle cx="537.7" cy="150.1" r="2.55"/><circle cx="538.7" cy="145.9" r="2.55"/><circle cx="539.9" cy="142.0" r="2.55"/><circle cx="541.0" cy="136.2" r="2.55"/><circle cx="542.2" cy="133.7" r="2.55"/><circle cx="543.4" cy="128.2" r="2.55"/><circle cx="544.6" cy="125.6" r="2.55"/><circle cx="545.8" cy="122.9" r="2.55"/><circle cx="547.0" cy="122.1" r="2.55"/><circle cx="548.2" cy="118.5" r="2.55"/><circle cx="549.3" cy="116.9" r="2.55"/><circle cx="550.5" cy="114.9" r="2.55"/><circle cx="551.7" cy="112.6" r="2.55"/><circle cx="552.9" cy="111.4" r="2.55"/><circle cx="554.1" cy="109.1" r="2.55"/><circle cx="555.3" cy="104.0" r="2.55"/><circle cx="556.4" cy="102.2" r="2.55"/><circle cx="557.6" cy="99.0" r="2.55"/><circle cx="558.8" cy="95.6" r="2.55"/><circle cx="560.0" cy="96.5" r="2.55"/><circle cx="561.2" cy="93.8" r="2.55"/><circle cx="562.4" cy="91.3" r="2.55"/><circle cx="563.6" cy="89.4" r="2.55"/><circle cx="564.7" cy="88.4" r="2.55"/><circle cx="565.9" cy="85.0" r="2.55"/><circle cx="567.1" cy="84.0" r="2.55"/><circle cx="568.3" cy="83.8" r="2.55"/><circle cx="569.5" cy="81.9" r="2.55"/><circle cx="570.7" cy="78.5" r="2.55"/><circle cx="571.9" cy="77.5" r="2.55"/><circle cx="573.0" cy="78.7" r="2.55"/><circle cx="574.2" cy="73.8" r="2.55"/><circle cx="575.4" cy="73.3" r="2.55"/><circle cx="576.6" cy="71.2" r="2.55"/><circle cx="577.8" cy="71.7" r="2.55"/><circle cx="579.0" cy="70.3" r="2.55"/><circle cx="580.1" cy="70.0" r="2.55"/><circle cx="581.3" cy="64.8" r="2.55"/><circle cx="582.5" cy="66.7" r="2.55"/><circle cx="583.7" cy="63.7" r="2.55"/><circle cx="584.9" cy="65.2" r="2.55"/><circle cx="586.1" cy="63.4" r="2.55"/><circle cx="587.3" cy="64.6" r="2.55"/><circle cx="588.4" cy="62.4" r="2.55"/><circle cx="589.6" cy="60.1" r="2.55"/><circle cx="590.8" cy="62.0" r="2.55"/><circle cx="592.0" cy="58.8" r="2.55"/><circle cx="593.2" cy="59.1" r="2.55"/><circle cx="594.4" cy="60.1" r="2.55"/><circle cx="595.5" cy="59.1" r="2.55"/><circle cx="596.7" cy="58.6" r="2.55"/><circle cx="597.9" cy="57.8" r="2.55"/><circle cx="599.1" cy="58.0" r="2.55"/><circle cx="600.3" cy="58.0" r="2.55"/><circle cx="601.5" cy="57.1" r="2.55"/><circle cx="602.7" cy="57.6" r="2.55"/><circle cx="603.8" cy="57.7" r="2.55"/><circle cx="605.0" cy="56.2" r="2.55"/><circle cx="606.2" cy="55.1" r="2.55"/><circle cx="607.4" cy="57.7" r="2.55"/><circle cx="608.6" cy="56.2" r="2.55"/><circle cx="609.8" cy="57.1" r="2.55"/><circle cx="610.9" cy="57.8" r="2.55"/><circle cx="612.1" cy="56.1" r="2.55"/><circle cx="613.3" cy="58.0" r="2.55"/><circle cx="614.5" cy="56.1" r="2.55"/><circle cx="615.7" cy="58.9" r="2.55"/><circle cx="616.9" cy="58.0" r="2.55"/><circle cx="618.1" cy="59.0" r="2.55"/><circle cx="619.2" cy="60.0" r="2.55"/><circle cx="620.4" cy="59.0" r="2.55"/><circle cx="621.6" cy="60.2" r="2.55"/><circle cx="622.8" cy="59.8" r="2.55"/><circle cx="624.0" cy="61.0" r="2.55"/><circle cx="625.2" cy="62.7" r="2.55"/><circle cx="626.4" cy="62.1" r="2.55"/><circle cx="627.5" cy="62.4" r="2.55"/><circle cx="628.7" cy="61.9" r="2.55"/><circle cx="629.9" cy="64.5" r="2.55"/><circle cx="631.1" cy="64.1" r="2.55"/><circle cx="632.3" cy="66.5" r="2.55"/><circle cx="633.5" cy="64.5" r="2.55"/><circle cx="634.6" cy="67.0" r="2.55"/><circle cx="635.8" cy="68.5" r="2.55"/><circle cx="637.0" cy="67.4" r="2.55"/><circle cx="638.2" cy="67.0" r="2.55"/><circle cx="639.4" cy="70.9" r="2.55"/><circle cx="640.6" cy="71.6" r="2.55"/><circle cx="641.8" cy="72.5" r="2.55"/><circle cx="642.9" cy="74.3" r="2.55"/><circle cx="644.1" cy="74.0" r="2.55"/><circle cx="645.3" cy="76.7" r="2.55"/><circle cx="646.5" cy="77.9" r="2.55"/><circle cx="647.7" cy="77.7" r="2.55"/><circle cx="648.9" cy="80.3" r="2.55"/><circle cx="650.0" cy="80.1" r="2.55"/><circle cx="651.2" cy="82.7" r="2.55"/><circle cx="652.4" cy="84.0" r="2.55"/><circle cx="653.6" cy="85.8" r="2.55"/><circle cx="654.8" cy="82.8" r="2.55"/><circle cx="656.0" cy="86.2" r="2.55"/><circle cx="657.2" cy="86.7" r="2.55"/><circle cx="658.3" cy="88.1" r="2.55"/><circle cx="659.5" cy="89.1" r="2.55"/><circle cx="660.7" cy="90.3" r="2.55"/><circle cx="661.9" cy="89.5" r="2.55"/><circle cx="663.1" cy="93.9" r="2.55"/><circle cx="664.3" cy="95.7" r="2.55"/><circle cx="665.4" cy="96.3" r="2.55"/><circle cx="666.6" cy="97.9" r="2.55"/><circle cx="667.8" cy="96.9" r="2.55"/><circle cx="669.0" cy="98.1" r="2.55"/><circle cx="670.2" cy="101.3" r="2.55"/><circle cx="671.4" cy="103.1" r="2.55"/><circle cx="672.6" cy="103.2" r="2.55"/><circle cx="673.7" cy="102.6" r="2.55"/><circle cx="674.9" cy="108.6" r="2.55"/><circle cx="676.1" cy="106.2" r="2.55"/><circle cx="677.3" cy="109.4" r="2.55"/><circle cx="678.5" cy="108.4" r="2.55"/><circle cx="679.7" cy="112.2" r="2.55"/><circle cx="680.8" cy="112.7" r="2.55"/><circle cx="682.0" cy="115.5" r="2.55"/><circle cx="683.2" cy="116.3" r="2.55"/><circle cx="684.4" cy="115.1" r="2.55"/><circle cx="685.6" cy="117.2" r="2.55"/><circle cx="686.8" cy="120.1" r="2.55"/><circle cx="688.0" cy="122.1" r="2.55"/><circle cx="689.1" cy="124.8" r="2.55"/><circle cx="690.3" cy="124.7" r="2.55"/><circle cx="691.5" cy="125.9" r="2.55"/><circle cx="692.7" cy="127.6" r="2.55"/><circle cx="693.9" cy="129.3" r="2.55"/><circle cx="695.1" cy="132.2" r="2.55"/><circle cx="696.3" cy="132.8" r="2.55"/><circle cx="697.4" cy="134.5" r="2.55"/><circle cx="698.6" cy="134.9" r="2.55"/><circle cx="699.8" cy="136.1" r="2.55"/><circle cx="701.0" cy="140.1" r="2.55"/><circle cx="702.2" cy="142.7" r="2.55"/><circle cx="703.4" cy="143.9" r="2.55"/><circle cx="704.5" cy="146.5" r="2.55"/><circle cx="705.7" cy="148.7" r="2.55"/><circle cx="706.9" cy="150.0" r="2.55"/><circle cx="708.1" cy="153.1" r="2.55"/><circle cx="709.3" cy="153.4" r="2.55"/><circle cx="710.5" cy="156.1" r="2.55"/><circle cx="711.7" cy="157.7" r="2.55"/><circle cx="712.8" cy="160.0" r="2.55"/><circle cx="714.0" cy="162.5" r="2.55"/><circle cx="715.2" cy="164.6" r="2.55"/><circle cx="716.4" cy="165.7" r="2.55"/><circle cx="717.6" cy="167.8" r="2.55"/><circle cx="718.8" cy="168.8" r="2.55"/><circle cx="719.9" cy="170.8" r="2.55"/><circle cx="721.1" cy="174.1" r="2.55"/><circle cx="722.3" cy="174.3" r="2.55"/><circle cx="723.5" cy="177.6" r="2.55"/><circle cx="724.7" cy="178.5" r="2.55"/><circle cx="725.9" cy="179.8" r="2.55"/></g><g font-family="Liberation Sans" font-weight="bold" fill="#000"><text x="33.30" y="262.40" font-size="12.4">0</text><text x="26.41 33.30" y="237.01" font-size="12.4">20</text><text x="26.41 33.30" y="211.62" font-size="12.4">40</text><text x="26.41 33.30" y="186.24" font-size="12.4">60</text><text x="26.41 33.30" y="160.85" font-size="12.4">80</text><text x="26.41 33.30" y="135.46" font-size="12.4">00</text><path d="M478 0L478 1170L140 959L140 1180L493 1409L759 1409L759 0Z" transform="translate(19.51,135.46) scale(0.006055,-0.006055)"/><text x="26.41 33.30" y="110.07" font-size="12.4">20</text><path d="M478 0L478 1170L140 959L140 1180L493 1409L759 1409L759 0Z" transform="translate(19.51,110.07) scale(0.006055,-0.006055)"/><text x="26.41 33.30" y="84.68" font-size="12.4">40</text><path d="M478 0L478 1170L140 959L140 1180L493 1409L759 1409L759 0Z" transform="translate(19.51,84.68) scale(0.006055,-0.006055)"/><text x="26.41 33.30" y="59.30" font-size="12.4">60</text><path d="M478 0L478 1170L140 959L140 1180L493 1409L759 1409L759 0Z" transform="translate(19.51,59.30) scale(0.006055,-0.006055)"/><text x="26.41 33.30" y="33.91" font-size="12.4">80</text><path d="M478 0L478 1170L140 959L140 1180L493 1409L759 1409L759 0Z" transform="translate(19.51,33.91) scale(0.006055,-0.006055)"/><text x="72.75" y="276.70" font-size="12.4">0</text><text x="125.14 132.04" y="276.70" font-size="12.4">40</text><text x="180.98 187.88" y="276.70" font-size="12.4">80</text><text x="240.27 247.17" y="276.70" font-size="12.4">20</text><path d="M478 0L478 1170L140 959L140 1180L493 1409L759 1409L759 0Z" transform="translate(233.38,276.70) scale(0.006055,-0.006055)"/><text x="296.11 303.01" y="276.70" font-size="12.4">60</text><path d="M478 0L478 1170L140 959L140 1180L493 1409L759 1409L759 0Z" transform="translate(289.22,276.70) scale(0.006055,-0.006055)"/><text x="345.06 351.95 358.85" y="276.70" font-size="12.4">200</text><text x="461.07 465.20" y="263.10" font-size="12.4">-2</text><text x="465.20" y="208.10" font-size="12.4">0</text><text x="465.20" y="153.10" font-size="12.4">2</text><text x="465.20" y="98.10" font-size="12.4">4</text><text x="465.20" y="43.10" font-size="12.4">6</text><text x="471.15 475.02 481.47" y="277.20" font-size="11.6">-50</text><text x="525.67" y="277.20" font-size="11.6">0</text><text x="571.81 578.27" y="277.20" font-size="11.6">50</text><text x="624.40 630.86" y="277.20" font-size="11.6">00</text><path d="M478 0L478 1170L140 959L140 1180L493 1409L759 1409L759 0Z" transform="translate(617.95,277.20) scale(0.005664,-0.005664)"/><text x="673.77 680.22" y="277.20" font-size="11.6">50</text><path d="M478 0L478 1170L140 959L140 1180L493 1409L759 1409L759 0Z" transform="translate(667.32,277.20) scale(0.005664,-0.005664)"/><text x="716.68 723.13 729.59" y="277.20" font-size="11.6">200</text><text x="766.05 772.50 778.95" y="277.20" font-size="11.6">250</text></g><text x="150.0 158.2 162.3 169.4 176.3 183.6 190.4 198.4 204.6 211.1 218.3 221.3 229.7 239.6 247.9" y="293.8" font-family="Liberation Sans" font-weight="bold" font-size="11.6">Frequency (MHz)</text><text x="578.4 586.2 589.6 595.4 601.6 608.5 613.8 620.9 626.2 632.3 641.3 644.2 652.2 662.5 670.3" y="293.4" font-family="Liberation Sans" font-weight="bold" font-size="11">Frequency (MHz)</text><text transform="translate(10.4,200) rotate(-90)" font-family="Liberation Sans" font-weight="bold" font-size="12" textLength="96" lengthAdjust="spacing">Inductance (nH)</text><text transform="translate(453.6,181.8) rotate(-90)" font-family="Liberation Sans" font-weight="bold" font-size="12.3" textLength="47.6" lengthAdjust="spacing">Q factor</text><text x="188.8" y="315.5" font-family="Liberation Serif" font-size="13.5" text-anchor="middle" textLength="15.2" lengthAdjust="spacing">(<tspan font-style="italic">a</tspan>)</text><text x="629.4" y="315.5" font-family="Liberation Serif" font-size="13.5" text-anchor="middle" textLength="15.6" lengthAdjust="spacing">(<tspan font-style="italic">b</tspan>)</text><rect x="301.9" y="6.4" width="117.60000000000002" height="31.4" fill="#fff" stroke="#333" stroke-width="1.4"/><rect x="302.5" y="9.8" width="25.600000000000023" height="11.7" fill="none" stroke="#b83a3a" stroke-width="1.1"/><line x1="302.5" y1="15" x2="328.1" y2="15" stroke="#1a1a1a" stroke-width="1.2"/><rect x="312.8" y="12.8" width="4" height="4.4" fill="#000"/><line x1="302.5" y1="31.6" x2="328.1" y2="31.6" stroke="#c82828" stroke-width="1.2"/><circle cx="314.5" cy="31.6" r="2.3" fill="#f00"/><text x="328.0" y="18.4" font-family="Liberation Sans" font-weight="bold" font-size="10.6" letter-spacing="0.45" textLength="49.6" lengthAdjust="spacingAndGlyphs">Air Core</text><text x="331.0" y="33.5" font-family="Liberation Sans" font-weight="bold" font-size="10.6" letter-spacing="0.45" textLength="87.6" lengthAdjust="spacingAndGlyphs">Magnetic Core</text><rect x="723.3" y="17" width="112.20000000000005" height="30" fill="#fff" stroke="#333" stroke-width="1.4"/><rect x="724.9" y="19.5" width="24.300000000000068" height="12.0" fill="none" stroke="#b83a3a" stroke-width="1.1"/><line x1="724.9" y1="25" x2="749.2" y2="25" stroke="#1a1a1a" stroke-width="1.2"/><rect x="734.5" y="22.8" width="4" height="4.4" fill="#000"/><line x1="724.9" y1="40.7" x2="749.2" y2="40.7" stroke="#c82828" stroke-width="1.2"/><path d="M736.6 37.9 L739.4 40.7 L736.6 43.5 L733.8 40.7Z" fill="#f00"/><text x="751.2" y="29.1" font-family="Liberation Sans" font-weight="bold" font-size="10.6" letter-spacing="0.45" textLength="47.3" lengthAdjust="spacingAndGlyphs">Air Core</text><text x="751.9" y="43.9" font-family="Liberation Sans" font-weight="bold" font-size="10.6" letter-spacing="0.45" textLength="83.0" lengthAdjust="spacingAndGlyphs">Magnetic Core</text>
</svg>
</body></html>
